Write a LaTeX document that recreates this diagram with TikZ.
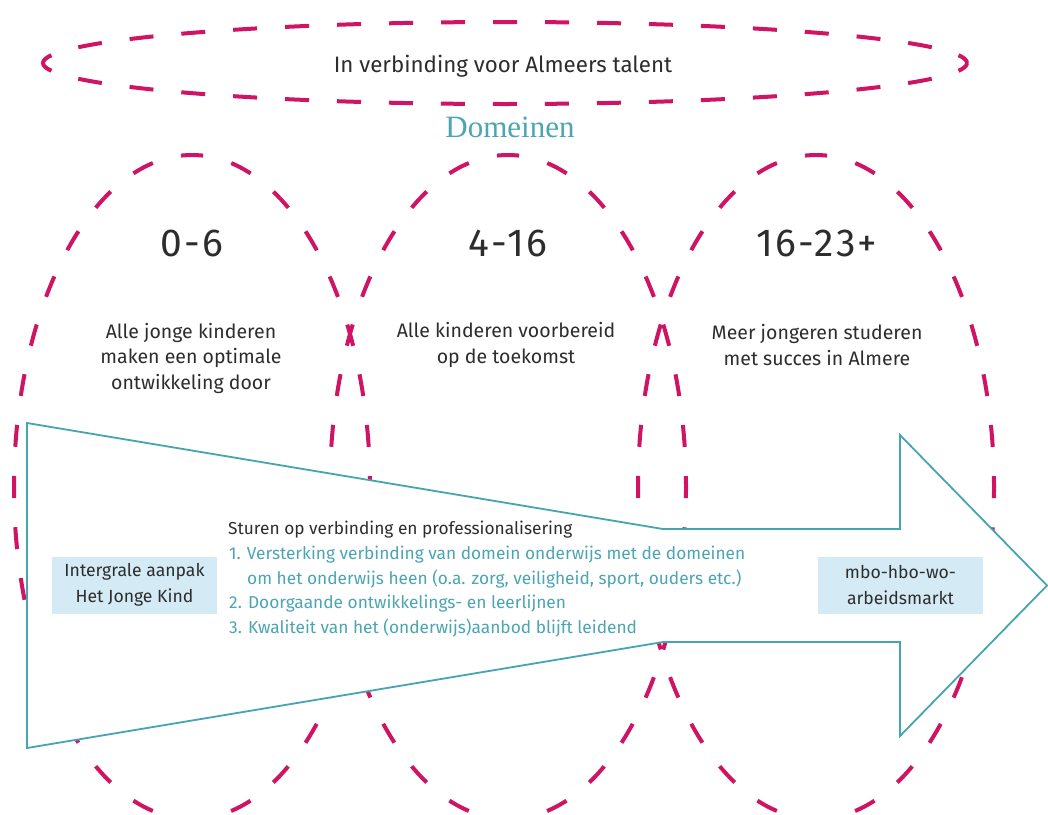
\documentclass[tikz,border=0pt]{standalone}
\usepackage{fontspec}
\setmainfont{Fira Sans}
\newfontfamily\serifdom{Liberation Serif}
\newfontfamily\numfont[LetterSpace=6]{Fira Sans}
\definecolor{mag}{RGB}{208,20,100}
\definecolor{tealline}{RGB}{70,165,175}
\definecolor{tealtxt}{RGB}{75,165,178}
\definecolor{boxblue}{RGB}{212,234,244}
\definecolor{txtgray}{RGB}{45,45,45}
\begin{document}
\begin{tikzpicture}[x=1pt,y=-1pt,
  domell/.style={draw=mag, line width=4pt, dash pattern=on 22pt off 29.22pt, dash phase=11pt},
  topell/.style={draw=mag, line width=4pt, dash pattern=on 24pt off 28pt, dash phase=12pt},
  bigarrow/.style={draw=tealline, line width=1.8pt, fill=white, line join=miter},
  numlbl/.style={text=txtgray, font=\numfont\fontsize{39}{40}\selectfont, inner sep=0pt},
  desc/.style={text=txtgray, align=center, font=\fontsize{19.5}{25.5}\selectfont, inner sep=0pt},
  infobox/.style={fill=boxblue, text=txtgray, align=center, font=\fontsize{17.6}{26}\selectfont, minimum width=165pt, minimum height=57pt, inner sep=0pt},
  listline/.style={anchor=west, inner sep=0pt, font=\fontsize{17.3}{20}\selectfont},
]
\useasboundingbox (0,0) rectangle (1048,814);
\fill[white] (0,0) rectangle (1048,814);

% top ellipse (start at right end so dashes centre on both ends)
\draw[topell] (967,63) arc[start angle=0, end angle=360, x radius=462pt, y radius=41pt];
\node[text=txtgray, font=\fontsize{22.3}{24}\selectfont, inner sep=0pt] (title) at (503,66) {In verbinding voor Almeers talent};
\node[text=tealtxt, font=\serifdom\fontsize{31}{32}\selectfont, inner sep=0pt] (domeinen) at (510,127) {Domeinen};

% domain ellipses
\draw[domell] (192,155) arc[start angle=90, end angle=450, x radius=178pt, y radius=332pt];
\draw[domell] (508,155) arc[start angle=90, end angle=450, x radius=178pt, y radius=332pt];
\draw[domell] (816,155) arc[start angle=90, end angle=450, x radius=178pt, y radius=332pt];

\node[numlbl] (n1) at (192,243) {0-6};
\node[numlbl] (n2) at (508,243) {4-16};
\node[numlbl] (n3) at (817,243) {16-23+};

\node[desc] (d1) at (191,358) {Alle jonge kinderen\\maken een optimale\\ontwikkeling door};
\node[desc] (d2) at (506,345) {Alle kinderen voorbereid\\op de toekomst};
\node[desc] (d3) at (817,345) {Meer jongeren studeren\\met succes in Almere};

% big arrow
\draw[bigarrow] (27,423) -- (663,529) -- (900,529) -- (900,435) -- (1047,585.5)
  -- (900,736) -- (900,642) -- (663,642) -- (27,748) -- cycle;

\node[infobox] (b1) at (134.5,585) {Intergrale aanpak\\Het Jonge Kind};
\node[infobox] (b2) at (900.5,585) {mbo-hbo-wo-\\arbeidsmarkt};

\node[listline, text=txtgray] (l0) at (228,530) {Sturen op verbinding en professionalisering};
\node[listline, text=tealtxt] (l1) at (229,555) {1. Versterking verbinding van domein onderwijs met de domeinen};
\node[listline, text=tealtxt] (l2) at (247,579.5) {om het onderwijs heen (o.a. zorg, veiligheid, sport, ouders etc.)};
\node[listline, text=tealtxt] (l3) at (229,604) {2. Doorgaande ontwikkelings- en leerlijnen};
\node[listline, text=tealtxt] (l4) at (229,628.5) {3. Kwaliteit van het (onderwijs)aanbod blijft leidend};
\end{tikzpicture}
\end{document}
